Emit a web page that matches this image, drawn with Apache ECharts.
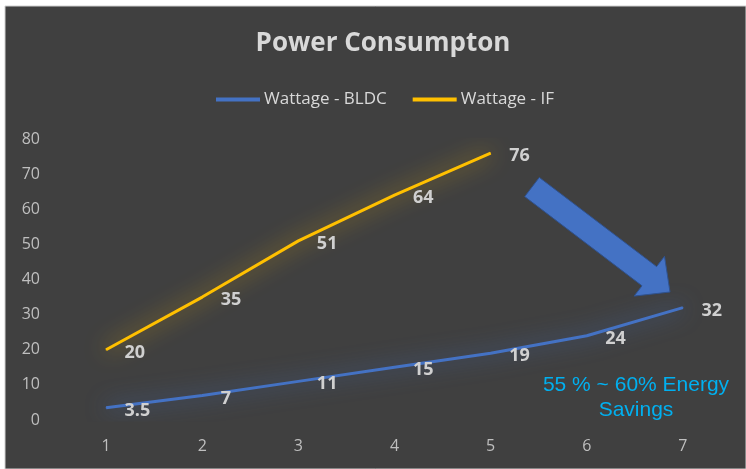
<!DOCTYPE html>
<html>
<head>
<meta charset="utf-8">
<script src="https://cdn.jsdelivr.net/npm/echarts@6/dist/echarts.min.js"></script>
<style>
html,body{margin:0;padding:0;background:#ffffff;}
#chart{width:746px;height:469px;}
</style>
</head>
<body>
<div id="chart"></div>
<script>
const titleText = 'Power Consumpton';
const categories = ['1', '2', '3', '4', '5', '6', '7'];
const seriesNames = ['Wattage - BLDC', 'Wattage - IF'];
const bldcValues = [3.5, 7, 11, 15, 19, 24, 32];
const ifValues = [20, 35, 51, 64, 76];
const yTicks = { min: 0, max: 80, interval: 10 };
const noteLines = ['55 % ~ 60% Energy', 'Savings'];

const chart = echarts.init(document.getElementById('chart'), null, { renderer: 'canvas' });
const labelStyle = {
  show: true, position: 'right', distance: 18, offset: [0, 3],
  color: '#d0d0d0', fontSize: 18, fontWeight: 'bold', fontFamily: 'Open Sans'
};
const option = {
  animation: false,
  backgroundColor: '#ffffff',
  title: {
    text: titleText, left: 378, top: 26, textAlign: 'center',
    textStyle: { color: '#d9d9d9', fontSize: 26, fontWeight: 'bold', fontFamily: 'Open Sans' }
  },
  legend: {
    left: 211, top: 86, icon: 'rect', itemWidth: 44, itemHeight: 4, itemGap: 26,
    textStyle: { color: '#d9d9d9', fontSize: 17, fontFamily: 'Open Sans', padding: [0, 0, 0, -1] },
    data: seriesNames
  },
  grid: { left: 58, right: 15, top: 139, bottom: 49, containLabel: false },
  xAxis: {
    type: 'category', data: categories, boundaryGap: true,
    axisLine: { show: false }, axisTick: { show: false },
    axisLabel: { color: '#bfbfbf', fontSize: 16, fontFamily: 'Open Sans', margin: 18 },
    splitLine: { show: false }
  },
  yAxis: {
    type: 'value', min: yTicks.min, max: yTicks.max, interval: yTicks.interval,
    axisLine: { show: false }, axisTick: { show: false },
    axisLabel: { color: '#bfbfbf', fontSize: 16, fontFamily: 'Open Sans', margin: 18 },
    splitLine: { show: false }
  },
  graphic: [
    { type: 'rect', z: -10, silent: true, shape: { x: 5, y: 6, width: 741, height: 463 },
      style: { fill: '#404040', stroke: '#d0d0d0', lineWidth: 1 } },
    { type: 'polygon', z: 10, silent: true,
      shape: { points: [[539.3,177.4],[656.6,266.6],[664.5,256.3],[670,292],[634.1,296.1],[642,285.8],[524.7,196.6]] },
      style: { fill: '#4472C4', stroke: '#2F528F', lineWidth: 1 } },
    { type: 'text', z: 10, silent: true, x: 636, y: 385,
      style: { text: noteLines[0], fill: '#00B0F0', fontSize: 21, fontFamily: 'Liberation Sans', align: 'center', verticalAlign: 'middle' } },
    { type: 'text', z: 10, silent: true, x: 636, y: 410,
      style: { text: noteLines[1], fill: '#00B0F0', fontSize: 21, fontFamily: 'Liberation Sans', align: 'center', verticalAlign: 'middle' } }
  ],
  series: [
    {
      name: seriesNames[0], type: 'line', data: bldcValues,
      symbol: 'circle', symbolSize: 1, showSymbol: true,
      itemStyle: { color: '#4472C4' },
      lineStyle: { color: '#4472C4', width: 3, shadowColor: 'rgba(68,114,196,0.95)', shadowBlur: 22 },
      label: labelStyle
    },
    {
      name: seriesNames[1], type: 'line', data: ifValues,
      symbol: 'circle', symbolSize: 1, showSymbol: true,
      itemStyle: { color: '#FFC000' },
      lineStyle: { color: '#FFC000', width: 3, shadowColor: 'rgba(255,192,0,0.8)', shadowBlur: 22 },
      label: labelStyle
    }
  ]
};
chart.setOption(option);
</script>
</body>
</html>
